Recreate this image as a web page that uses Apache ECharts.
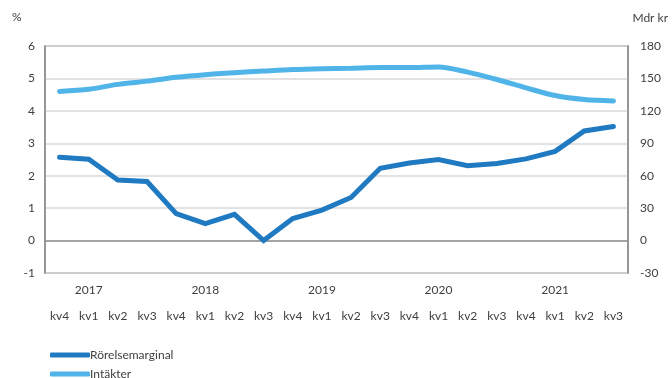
<!DOCTYPE html>
<html>
<head>
<meta charset="utf-8">
<script src="https://cdn.jsdelivr.net/npm/echarts@6/dist/echarts.min.js"></script>
<style>
  html, body { margin: 0; padding: 0; background: #fff; }
  #chart { width: 672px; height: 378px; }
</style>
</head>
<body>
<div id="chart"></div>
<script>
// Quarters from kv4 2016 to kv3 2021
const quarters = ['kv4','kv1','kv2','kv3','kv4','kv1','kv2','kv3','kv4','kv1',
                  'kv2','kv3','kv4','kv1','kv2','kv3','kv4','kv1','kv2','kv3'];
// Year labels placed under each kv1
const years = ['','2017','','','','2018','','','','2019',
               '','','','2020','','','','2021','',''];

// Operating margin, percent (left axis)
const rorelsemarginal = [2.57, 2.51, 1.87, 1.82, 0.83, 0.52, 0.81, 0.0, 0.68, 0.94,
                         1.33, 2.23, 2.39, 2.50, 2.31, 2.38, 2.52, 2.75, 3.38, 3.52];
// Revenue, billion SEK (right axis)
const intakter = [138, 140, 144.5, 147.5, 151, 153.5, 155.3, 156.8, 158.2, 159,
                  159.5, 160, 160, 160.6, 155.8, 149, 141.3, 134.2, 130.5, 129.2];

const leftTicks = { min: -1, max: 6, interval: 1 };
const rightTicks = { min: -30, max: 180, interval: 30 };

const FONT = 'Lato, "Open Sans", sans-serif';
const TEXT = '#404040';
const AXIS = '#8f8f8f';
const DARK = '#1f7ac2';
const LIGHT = '#50b4e8';

const legendBase = {
  orient: 'horizontal',
  left: 50,
  itemWidth: 40, itemHeight: 5,
  icon: 'roundRect',
  padding: 0,
  textStyle: { fontFamily: FONT, fontSize: 12, color: TEXT, padding: [0, 0, 0, -5] }
};

const chart = echarts.init(document.getElementById('chart'), null, { renderer: 'canvas' });

chart.setOption({
  animation: false,
  textStyle: { fontFamily: FONT, color: TEXT },
  grid: {
    left: 45, right: 44, top: 46, bottom: 105,
    show: true, borderColor: AXIS, borderWidth: 1.5, backgroundColor: 'transparent'
  },
  graphic: [
    { type: 'text', left: 12, top: 11, style: { text: '%', font: '12px ' + FONT, fill: TEXT } },
    { type: 'text', right: 4, top: 12, style: { text: 'Mdr kr', font: '12px ' + FONT, fill: TEXT } }
  ],
  legend: [
    Object.assign({}, legendBase, { top: 349, data: ['Rörelsemarginal'] }),
    Object.assign({}, legendBase, { top: 368, data: ['Intäkter'] })
  ],
  xAxis: [
    {
      type: 'category',
      data: quarters,
      boundaryGap: true,
      axisLine: { show: true, lineStyle: { color: AXIS, width: 1.5 } },
      axisTick: { show: false },
      axisLabel: { interval: 0, margin: 37, fontSize: 12, color: TEXT, fontFamily: FONT }
    },
    {
      type: 'category',
      data: years,
      position: 'bottom',
      boundaryGap: true,
      axisLine: { show: false },
      axisTick: { show: false },
      axisLabel: { interval: 0, margin: 11, fontSize: 12, color: TEXT, fontFamily: FONT }
    }
  ],
  yAxis: [
    {
      type: 'value',
      position: 'left',
      min: leftTicks.min, max: leftTicks.max, interval: leftTicks.interval,
      axisLine: { show: true, lineStyle: { color: AXIS, width: 1.5 } },
      axisTick: { show: false },
      axisLabel: { margin: 10, fontSize: 12, color: TEXT, fontFamily: FONT },
      splitLine: { show: true, lineStyle: { color: '#d9d9d9', width: 1.5 } }
    },
    {
      type: 'value',
      position: 'right',
      min: rightTicks.min, max: rightTicks.max, interval: rightTicks.interval,
      axisLine: { show: true, lineStyle: { color: AXIS, width: 1.5 } },
      axisTick: { show: false },
      axisLabel: { margin: 12, fontSize: 12, color: TEXT, fontFamily: FONT },
      splitLine: { show: false }
    }
  ],
  series: [
    {
      name: 'Rörelsemarginal',
      type: 'line',
      xAxisIndex: 0, yAxisIndex: 0,
      data: rorelsemarginal,
      symbol: 'none',
      color: DARK,
      lineStyle: { color: DARK, width: 5, cap: 'round', join: 'miter' },
      z: 3
    },
    {
      name: 'Intäkter',
      type: 'line',
      xAxisIndex: 0, yAxisIndex: 1,
      data: intakter,
      symbol: 'none',
      smooth: 0.3,
      color: LIGHT,
      lineStyle: { color: LIGHT, width: 5, cap: 'round' },
      z: 2
    }
  ]
});
</script>
</body>
</html>
